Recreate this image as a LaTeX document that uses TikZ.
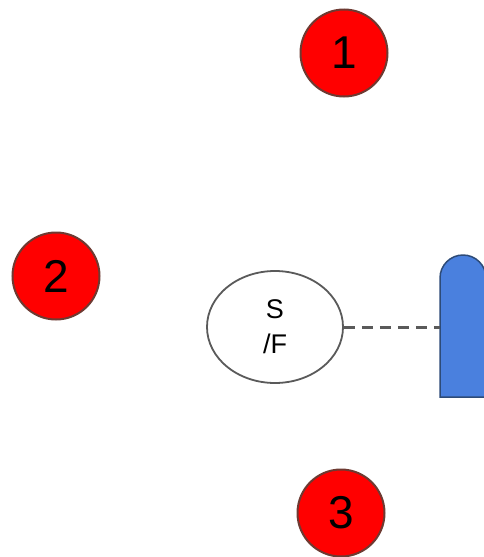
\documentclass[tikz,border=0pt]{standalone}
\usepackage{fontspec}
\setmainfont{Liberation Sans}
\usetikzlibrary{shapes.geometric}
\definecolor{redfill}{RGB}{255,0,0}
\definecolor{redline}{RGB}{110,58,50}
\definecolor{bluefill}{RGB}{74,128,222}
\definecolor{blueline}{RGB}{45,75,120}
\definecolor{grayline}{RGB}{90,90,90}
\tikzset{
  marker/.style={circle, fill=redfill, draw=redline, line width=2pt, minimum size=87pt, inner sep=0pt,
    font=\fontsize{46}{46}\selectfont},
  sfnode/.style={ellipse, draw=grayline, line width=1.8pt, fill=white, minimum width=136pt, minimum height=112pt, inner sep=0pt,
    align=center, font=\fontsize{27}{35}\selectfont},
  link/.style={draw=grayline, line width=3pt, dash pattern=on 11pt off 7pt},
}
\begin{document}
\begin{tikzpicture}[x=1pt,y=-1pt]
\useasboundingbox (0,0) rectangle (484,557);
\begin{scope}
\clip (0,0) rectangle (484,557);
\fill[white] (0,0) rectangle (484,557);
\node[marker] (m1) at (344,53) {1};
\node[marker] (m2) at (56,276) {2};
\node[marker] (m3) at (341,513) {3};
\node[sfnode] (sf) at (275,327) {S\\/F};
\draw[fill=bluefill, draw=blueline, line width=1.5pt]
  (440,397) -- (440,278) arc[start angle=180, end angle=360, radius=23] -- (486,397) -- cycle;
\coordinate (dev) at (440,327);
\draw[link] (sf.east) -- (dev);
\end{scope}
\end{tikzpicture}
\end{document}
